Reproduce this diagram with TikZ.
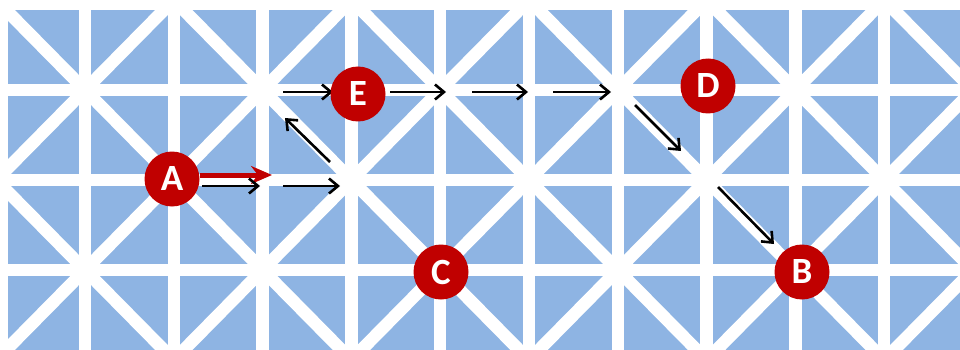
\documentclass[tikz,border=0pt]{standalone}
\usepackage{fontspec}
\setmainfont{Carlito}
\usetikzlibrary{arrows.meta}
\definecolor{gridblue}{RGB}{142,180,227}
\definecolor{markred}{RGB}{192,0,0}
\begin{document}
\begin{tikzpicture}[x=1pt,y=-1pt,
  gridline/.style={white,line width=12.5pt,line cap=round},
  pin/.style={circle,fill=markred,minimum size=55pt,inner sep=0pt,text=white,
    font=\fontsize{37}{37}\selectfont\bfseries},
  blackarrow/.style={black,line width=2.6pt,-{Straight Barb[length=9pt,width=15pt]}},
  redarrow/.style={markred,line width=5pt,-{Stealth[length=21pt,width=18pt,inset=7pt]}}]
\useasboundingbox (0,0) rectangle (960,350);
\fill[gridblue] (8,10) rectangle (960,350);
\begin{scope}
\clip (8,10) rectangle (960,350);
\foreach \k in {0,...,11} \draw[gridline,line cap=butt] ({-3.8+88.8*\k},-10) -- ({-3.8+88.8*\k},370);
\foreach \j in {0,...,4} \draw[gridline,line cap=butt] (-10,{90*\j}) -- (980,{90*\j});
\foreach \k in {0,...,10}{
  \foreach \j in {0,...,3}{
    \pgfmathtruncatemacro{\cellparity}{mod(\k+\j,2)}
    \ifnum\cellparity=0
      \draw[gridline] ({-3.8+88.8*\k},{90*\j}) -- ({-3.8+88.8*(\k+1)},{90*(\j+1)});
    \else
      \draw[gridline] ({-3.8+88.8*(\k+1)},{90*\j}) -- ({-3.8+88.8*\k},{90*(\j+1)});
    \fi
  }
}
\end{scope}
% arrow end points
\coordinate (r1) at (200,175);
\coordinate (r2) at (272,175);
\coordinate (a1s) at (202,186);
\coordinate (a1e) at (260,186);
\coordinate (a2s) at (283,186);
\coordinate (a2e) at (340,186);
\coordinate (a3s) at (330,162);
\coordinate (a3e) at (285,118);
\coordinate (a4s) at (283,92);
\coordinate (a4e) at (333,92);
\coordinate (a5s) at (390,92);
\coordinate (a5e) at (446,92);
\coordinate (a6s) at (472,92);
\coordinate (a6e) at (528,92);
\coordinate (a7s) at (553,92);
\coordinate (a7e) at (611,92);
\coordinate (a8s) at (635,105);
\coordinate (a8e) at (681,151);
\coordinate (a9s) at (718,187);
\coordinate (a9e) at (774,244);
\draw[redarrow] (r1) -- (r2);
\draw[blackarrow] (a1s) -- (a1e);
\draw[blackarrow] (a2s) -- (a2e);
\draw[blackarrow] (a3s) -- (a3e);
\draw[blackarrow] (a4s) -- (a4e);
\draw[blackarrow] (a5s) -- (a5e);
\draw[blackarrow] (a6s) -- (a6e);
\draw[blackarrow] (a7s) -- (a7e);
\draw[blackarrow] (a8s) -- (a8e);
\draw[blackarrow] (a9s) -- (a9e);
% markers
\node[pin] (A) at (172,179) {A};
\node[pin] (E) at (358,94) {E};
\node[pin] (D) at (708,86) {D};
\node[pin] (C) at (441,272) {C};
\node[pin] (B) at (802,272) {B};
\end{tikzpicture}
\end{document}
